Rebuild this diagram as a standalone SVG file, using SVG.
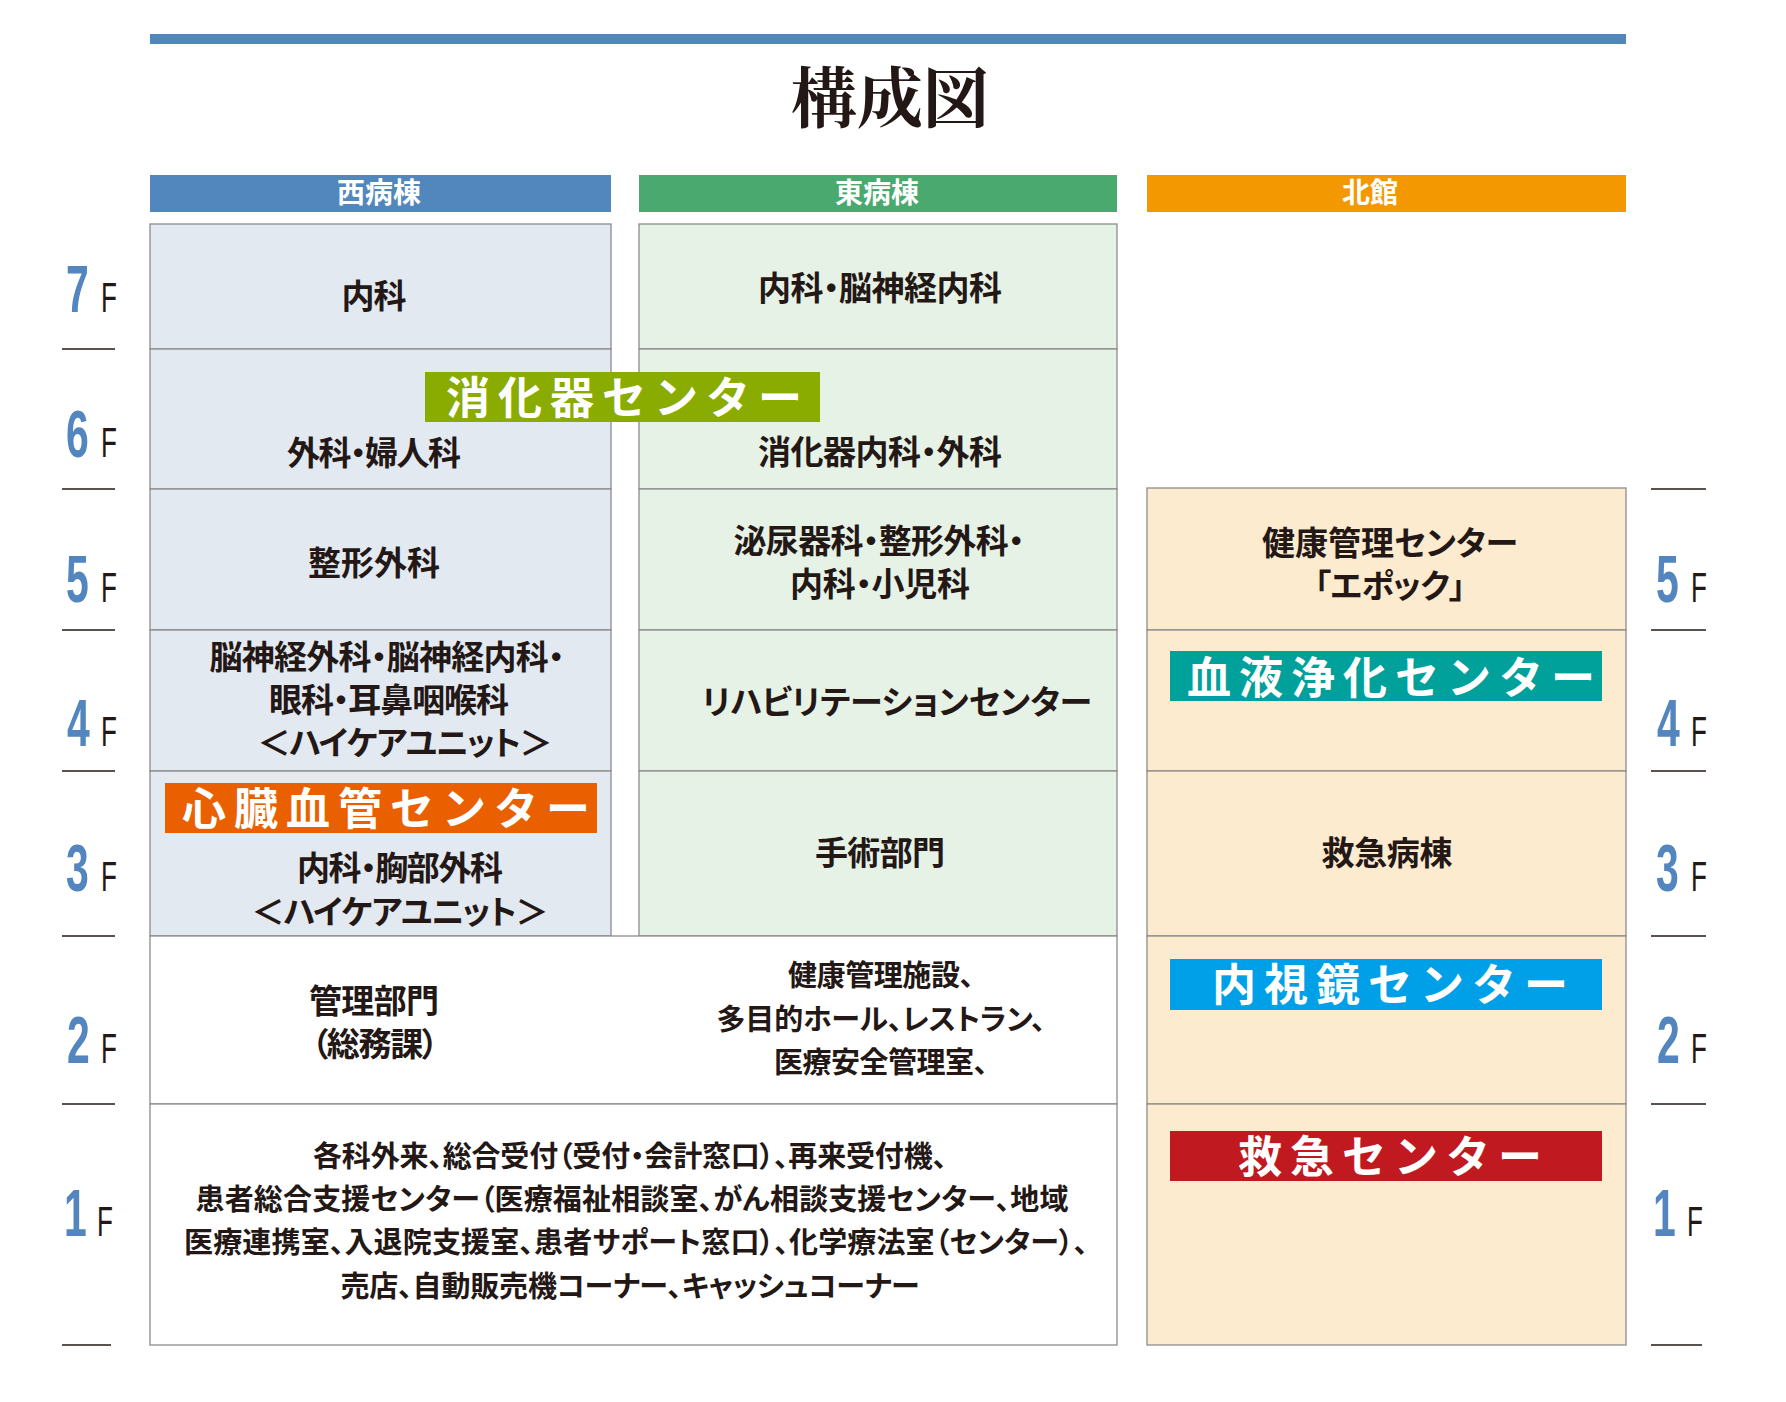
<svg xmlns="http://www.w3.org/2000/svg" width="1786" height="1402" viewBox="0 0 1786 1402">
<style>
.jp{font-family:"Noto Sans CJK JP","Noto Sans CJK SC",sans-serif;font-weight:700;fill:#231815;font-size:33px;text-anchor:middle;font-feature-settings:"palt"}
.sm{font-size:29px}
.hd{font-family:"Noto Sans CJK JP",sans-serif;font-weight:700;fill:#ffffff;font-size:28px;text-anchor:middle}
.bx{font-family:"Noto Sans CJK JP",sans-serif;font-weight:700;fill:#ffffff;font-size:44px;letter-spacing:8px}
.title{font-family:"Noto Serif CJK JP","Noto Sans CJK JP",serif;font-weight:700;fill:#231815;font-size:66px;text-anchor:middle}
.num{font-family:"Liberation Sans",Arial,sans-serif;font-weight:700;font-size:66px;fill:#5386be}
.ff{font-family:"Liberation Sans",Arial,sans-serif;font-size:42px;fill:#231815}
.w{fill:#e3e9f1;stroke:#8c8c8c;stroke-width:1.3}
.e{fill:#e7f2e6;stroke:#8c8c8c;stroke-width:1.3}
.n{fill:#fdebd0;stroke:#8c8c8c;stroke-width:1.3}
.c{fill:#ffffff;stroke:#8c8c8c;stroke-width:1.3}
.tick{stroke:#231815;stroke-width:1.5}
</style>
<rect x="150" y="34" width="1476" height="10" fill="#5287bd"/>
<text class="title" x="890" y="122">構成図</text>

<g id="headers">
<rect x="150" y="175" width="461" height="37" fill="#5287bd"/>
<text class="hd" x="379" y="203">西病棟</text>
<rect x="639" y="175" width="478" height="37" fill="#4aa96f"/>
<text class="hd" x="877" y="203">東病棟</text>
<rect x="1147" y="175" width="479" height="37" fill="#f39800"/>
<text class="hd" x="1370" y="203">北館</text>
</g>

<g id="floor-labels">
<line class="tick" x1="62" y1="349" x2="115" y2="349"/>
<line class="tick" x1="62" y1="489" x2="115" y2="489"/>
<line class="tick" x1="62" y1="630" x2="115" y2="630"/>
<line class="tick" x1="62" y1="771" x2="115" y2="771"/>
<line class="tick" x1="62" y1="936" x2="115" y2="936"/>
<line class="tick" x1="62" y1="1104" x2="115" y2="1104"/>
<line class="tick" x1="62" y1="1345" x2="111" y2="1345"/>
<line class="tick" x1="1651" y1="489" x2="1706" y2="489"/>
<line class="tick" x1="1651" y1="630" x2="1706" y2="630"/>
<line class="tick" x1="1651" y1="771" x2="1706" y2="771"/>
<line class="tick" x1="1651" y1="936" x2="1706" y2="936"/>
<line class="tick" x1="1651" y1="1104" x2="1706" y2="1104"/>
<line class="tick" x1="1651" y1="1345" x2="1702" y2="1345"/>
<text class="num" transform="translate(66,312) scale(0.62,1)">7</text>
<text class="ff" transform="translate(101,312) scale(0.62,1)">F</text>
<text class="num" transform="translate(66,457) scale(0.62,1)">6</text>
<text class="ff" transform="translate(101,457) scale(0.62,1)">F</text>
<text class="num" transform="translate(66,602) scale(0.62,1)">5</text>
<text class="ff" transform="translate(101,602) scale(0.62,1)">F</text>
<text class="num" transform="translate(67,746) scale(0.62,1)">4</text>
<text class="ff" transform="translate(101,746) scale(0.62,1)">F</text>
<text class="num" transform="translate(66,891) scale(0.62,1)">3</text>
<text class="ff" transform="translate(101,891) scale(0.62,1)">F</text>
<text class="num" transform="translate(67,1063) scale(0.62,1)">2</text>
<text class="ff" transform="translate(101,1063) scale(0.62,1)">F</text>
<text class="num" transform="translate(64,1236) scale(0.62,1)">1</text>
<text class="ff" transform="translate(97,1236) scale(0.62,1)">F</text>
<text class="num" transform="translate(1656,602) scale(0.62,1)">5</text>
<text class="ff" transform="translate(1691,602) scale(0.62,1)">F</text>
<text class="num" transform="translate(1657,746) scale(0.62,1)">4</text>
<text class="ff" transform="translate(1691,746) scale(0.62,1)">F</text>
<text class="num" transform="translate(1656,891) scale(0.62,1)">3</text>
<text class="ff" transform="translate(1691,891) scale(0.62,1)">F</text>
<text class="num" transform="translate(1657,1063) scale(0.62,1)">2</text>
<text class="ff" transform="translate(1691,1063) scale(0.62,1)">F</text>
<text class="num" transform="translate(1653,1236) scale(0.62,1)">1</text>
<text class="ff" transform="translate(1687,1236) scale(0.62,1)">F</text>
</g>

<g id="west-7f"><rect class="w" x="150" y="224" width="461" height="125"/>
<text class="jp" x="374" y="308" textLength="65" lengthAdjust="spacing">内科</text></g>
<g id="west-6f"><rect class="w" x="150" y="349" width="461" height="140"/>
<text class="jp" x="374" y="464.5" textLength="174" lengthAdjust="spacing">外科・婦人科</text></g>
<g id="west-5f"><rect class="w" x="150" y="489" width="461" height="141"/>
<text class="jp" x="374" y="574.5" textLength="132" lengthAdjust="spacing">整形外科</text></g>
<g id="west-4f"><rect class="w" x="150" y="630" width="461" height="141"/>
<text class="jp" x="387" y="668.5" textLength="355" lengthAdjust="spacing">脳神経外科・脳神経内科・</text>
<text class="jp" x="389" y="711.5" textLength="240" lengthAdjust="spacing">眼科・耳鼻咽喉科</text>
<text class="jp" x="405" y="755" textLength="295" lengthAdjust="spacing">＜ハイケアユニット＞</text></g>
<g id="west-3f"><rect class="w" x="150" y="771" width="461" height="165"/>
<text class="jp" x="400" y="880" textLength="206" lengthAdjust="spacing">内科・胸部外科</text>
<text class="jp" x="400" y="923.5" textLength="297" lengthAdjust="spacing">＜ハイケアユニット＞</text></g>

<g id="east-7f"><rect class="e" x="639" y="224" width="478" height="125"/>
<text class="jp" x="880" y="300" textLength="244" lengthAdjust="spacing">内科・脳神経内科</text></g>
<g id="east-6f"><rect class="e" x="639" y="349" width="478" height="140"/>
<text class="jp" x="880" y="464" textLength="244" lengthAdjust="spacing">消化器内科・外科</text></g>
<g id="east-5f"><rect class="e" x="639" y="489" width="478" height="141"/>
<text class="jp" x="879" y="552.5" textLength="291" lengthAdjust="spacing">泌尿器科・整形外科・</text>
<text class="jp" x="880" y="596" textLength="180" lengthAdjust="spacing">内科・小児科</text></g>
<g id="east-4f"><rect class="e" x="639" y="630" width="478" height="141"/>
<text class="jp" x="897" y="713.5" textLength="390" lengthAdjust="spacing">リハビリテーションセンター</text></g>
<g id="east-3f"><rect class="e" x="639" y="771" width="478" height="165"/>
<text class="jp" x="880" y="864.5" textLength="130" lengthAdjust="spacing">手術部門</text></g>

<g id="floor-2f"><rect class="c" x="150" y="936" width="967" height="168"/>
<text class="jp" x="374" y="1012.5" textLength="130" lengthAdjust="spacing">管理部門</text>
<text class="jp" x="375" y="1055.5" textLength="127" lengthAdjust="spacing">（総務課）</text>
<text class="jp sm" x="881" y="986" textLength="186" lengthAdjust="spacing">健康管理施設、</text>
<text class="jp sm" x="881" y="1029.5" textLength="329" lengthAdjust="spacing">多目的ホール、レストラン、</text>
<text class="jp sm" x="881" y="1072.5" textLength="214" lengthAdjust="spacing">医療安全管理室、</text></g>

<g id="floor-1f"><rect class="c" x="150" y="1104" width="967" height="241"/>
<text class="jp sm" x="630" y="1166.5" textLength="634" lengthAdjust="spacing">各科外来、総合受付（受付・会計窓口）、再来受付機、</text>
<text class="jp sm" x="632" y="1210" textLength="873" lengthAdjust="spacing">患者総合支援センター（医療福祉相談室、がん相談支援センター、地域</text>
<text class="jp sm" x="636" y="1253" textLength="904" lengthAdjust="spacing">医療連携室、入退院支援室、患者サポート窓口）、化学療法室（センター）、</text>
<text class="jp sm" x="630" y="1297" textLength="579" lengthAdjust="spacing">売店、自動販売機コーナー、キャッシュコーナー</text></g>

<g id="north-5f"><rect class="n" x="1147" y="488" width="479" height="142"/>
<text class="jp" x="1390" y="555" textLength="256" lengthAdjust="spacing">健康管理センター</text>
<text class="jp" x="1390" y="598" textLength="151" lengthAdjust="spacing">「エポック」</text></g>
<g id="north-4f"><rect class="n" x="1147" y="630" width="479" height="141"/></g>
<g id="north-3f"><rect class="n" x="1147" y="771" width="479" height="165"/>
<text class="jp" x="1387" y="864.5" textLength="131" lengthAdjust="spacing">救急病棟</text></g>
<g id="north-2f"><rect class="n" x="1147" y="936" width="479" height="168"/></g>
<g id="north-1f"><rect class="n" x="1147" y="1104" width="479" height="241"/></g>

<g id="digestive-center"><rect x="425" y="372" width="395" height="50" fill="#8aab00"/>
<text class="bx" x="446" y="414">消化器センター</text></g>
<g id="heart-center"><rect x="165" y="783" width="432" height="50" fill="#ea6000"/>
<text class="bx" x="182" y="825">心臓血管センター</text></g>
<g id="blood-center"><rect x="1170" y="651" width="432" height="50" fill="#00a09b"/>
<text class="bx" x="1187" y="694">血液浄化センター</text></g>
<g id="endoscopy-center"><rect x="1170" y="959" width="432" height="51" fill="#00a0e8"/>
<text class="bx" x="1212" y="1001">内視鏡センター</text></g>
<g id="emergency-center"><rect x="1170" y="1131" width="432" height="50" fill="#c01920"/>
<text class="bx" x="1238" y="1173">救急センター</text></g>
</svg>
